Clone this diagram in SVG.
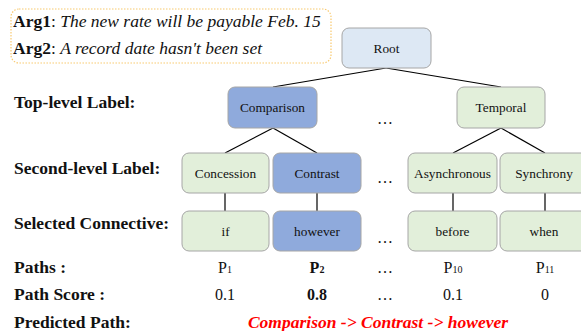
<svg xmlns="http://www.w3.org/2000/svg" width="581" height="331" viewBox="0 0 581 331">
<style>
text{font-family:"Liberation Serif","Times New Roman",serif;fill:#111}
.lbl{font-size:17.5px;font-weight:bold}
.nt{font-size:13.3px;text-anchor:middle}
.g{fill:#e2efda;stroke:#a6a6a6;stroke-width:1}
.b{fill:#8faadc;stroke:#a6a6a6;stroke-width:1}
.r{fill:#dde8f4;stroke:#a6a6a6;stroke-width:1}
.row{font-size:16px;text-anchor:middle}
.sub{font-size:10px}
.dots{font-size:16px;text-anchor:middle}
#connectors line{stroke:#000;stroke-width:1.2}
</style>
<rect width="581" height="331" fill="#fff"/>
<g id="args">
<rect x="11" y="9" width="320" height="54" rx="8" fill="#fff" stroke="#f8c96f" stroke-width="1.2" stroke-dasharray="1.5 1.5"/>
<text x="13" y="27" font-size="17.5"><tspan font-weight="bold">Arg1</tspan>: <tspan font-style="italic">The new rate will be payable Feb. 15</tspan></text>
<text x="13" y="54" font-size="17.5"><tspan font-weight="bold">Arg2</tspan>: <tspan font-style="italic">A record date hasn't been set</tspan></text>
</g>
<g id="labels">
<text class="lbl" x="14" y="108">Top-level Label:</text>
<text class="lbl" x="14" y="174">Second-level Label:</text>
<text class="lbl" x="14" y="229">Selected Connective:</text>
<text class="lbl" x="14" y="273">Paths :</text>
<text class="lbl" x="14" y="300">Path Score :</text>
<text class="lbl" x="14" y="328">Predicted Path:</text>
</g>
<g id="connectors">
<line x1="386" y1="68" x2="273" y2="87"/>
<line x1="386" y1="68" x2="501" y2="87"/>
<line x1="273" y1="128" x2="225" y2="153"/>
<line x1="273" y1="128" x2="317" y2="153"/>
<line x1="501" y1="128" x2="453" y2="153"/>
<line x1="501" y1="128" x2="545" y2="153"/>
<line x1="225" y1="193" x2="225" y2="211"/>
<line x1="317" y1="193" x2="317" y2="211"/>
<line x1="453" y1="193" x2="453" y2="211"/>
<line x1="545" y1="193" x2="545" y2="211"/>
</g>
<g id="root"><rect class="r" x="342" y="28" width="89" height="40" rx="7"/><text class="nt" x="386.5" y="52.5">Root</text></g>
<g id="comparison"><rect class="b" x="228" y="87" width="89" height="41" rx="7"/><text class="nt" x="272.5" y="112">Comparison</text></g>
<g id="temporal"><rect class="g" x="457" y="87" width="88" height="41" rx="7"/><text class="nt" x="501" y="112">Temporal</text></g>
<g id="concession"><rect class="g" x="182" y="153" width="87" height="40" rx="7"/><text class="nt" x="225.5" y="177.5">Concession</text></g>
<g id="contrast"><rect class="b" x="273" y="153" width="88" height="40" rx="7"/><text class="nt" x="317" y="177.5">Contrast</text></g>
<g id="asynchronous"><rect class="g" x="408" y="153" width="89" height="40" rx="7"/><text class="nt" x="452.5" y="177.5">Asynchronous</text></g>
<g id="synchrony"><rect class="g" x="500" y="153" width="88" height="40" rx="7"/><text class="nt" x="544" y="177.5">Synchrony</text></g>
<g id="if"><rect class="g" x="182" y="211" width="87" height="40" rx="7"/><text class="nt" x="225.5" y="235.5">if</text></g>
<g id="however"><rect class="b" x="273" y="211" width="88" height="40" rx="7"/><text class="nt" x="317" y="235.5">however</text></g>
<g id="before"><rect class="g" x="408" y="211" width="89" height="40" rx="7"/><text class="nt" x="452.5" y="235.5">before</text></g>
<g id="when"><rect class="g" x="500" y="211" width="88" height="40" rx="7"/><text class="nt" x="544" y="235.5">when</text></g>
<g id="ellipses">
<text class="dots" x="385" y="124">…</text>
<text class="dots" x="385" y="183">…</text>
<text class="dots" x="385" y="243">…</text>
<text class="dots" x="385" y="273">…</text>
<text class="dots" x="385" y="300">…</text>
</g>
<g id="paths">
<text class="row" x="225" y="273">P<tspan class="sub">1</tspan></text>
<text class="row" x="317" y="273" font-weight="bold">P<tspan class="sub">2</tspan></text>
<text class="row" x="453" y="273">P<tspan class="sub">10</tspan></text>
<text class="row" x="545" y="273">P<tspan class="sub">11</tspan></text>
<text class="row" x="225" y="300">0.1</text>
<text class="row" x="317" y="300" font-weight="bold">0.8</text>
<text class="row" x="453" y="300">0.1</text>
<text class="row" x="545" y="300">0</text>
</g>
<g id="predicted">
<text x="378" y="328" font-size="17.5" font-weight="bold" font-style="italic" text-anchor="middle" style="fill:#ff0000">Comparison -&gt; Contrast -&gt; however</text>
</g>
</svg>
